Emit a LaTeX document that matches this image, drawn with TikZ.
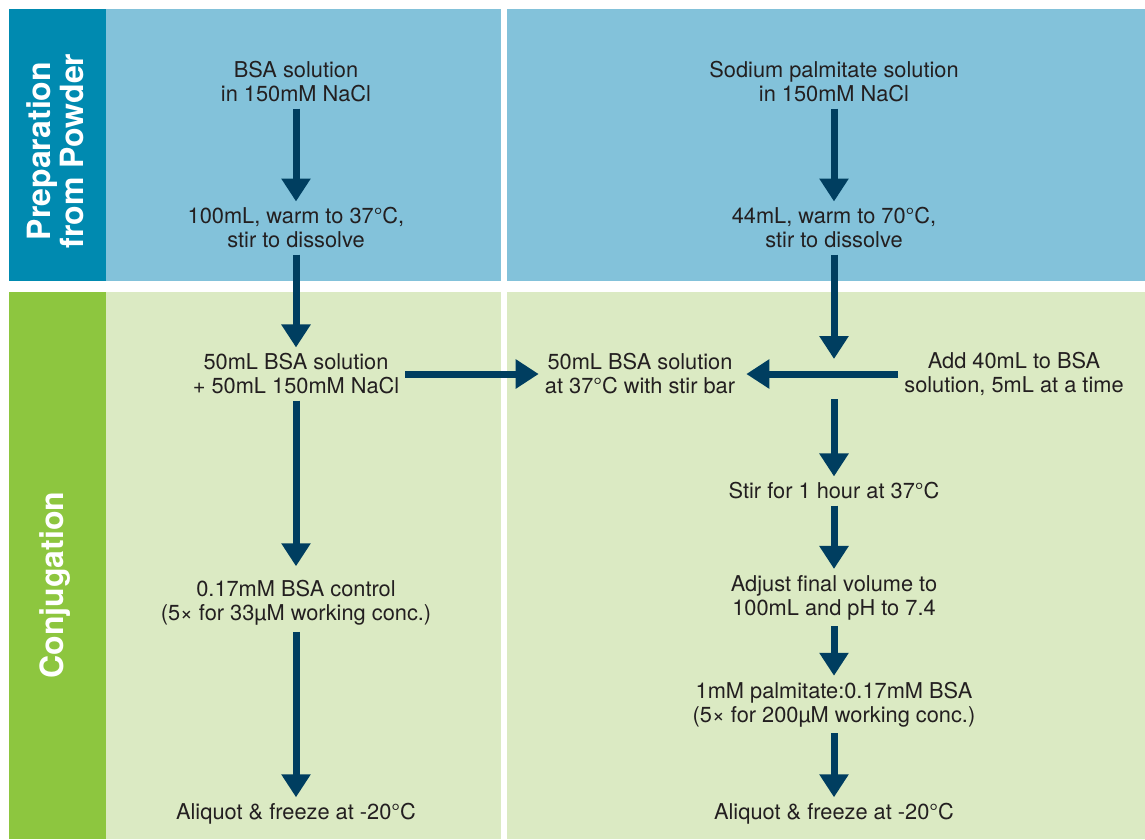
\documentclass[tikz,border=0pt]{standalone}
\usepackage{fontspec}
\setmainfont{TeX Gyre Heros}
\usepackage{tikz}
\usetikzlibrary{arrows.meta}

\definecolor{azulescuro}{RGB}{0,138,176}
\definecolor{azulclaro}{RGB}{131,194,218}
\definecolor{verde}{RGB}{141,198,63}
\definecolor{verdeclaro}{RGB}{219,234,195}
\definecolor{seta}{RGB}{0,62,96}
\definecolor{texto}{RGB}{35,31,32}

\begin{document}
\begin{tikzpicture}[x=1pt, y=-1pt,
    passo/.style={align=center, text=texto, inner sep=6pt, font=\fontsize{21.8}{24}\selectfont},
    rotulo/.style={rotate=90, align=center, text=white, font=\fontsize{32}{33}\selectfont\bfseries},
    fluxo/.style={draw=seta, line width=7pt, -{Triangle[width=28pt,length=23pt]}}]
            \useasboundingbox (0,0) rectangle (1145,839);

            % faixas de fundo
            \fill[azulescuro] (9,9) rectangle (106,281);
            \fill[azulclaro] (106,9) rectangle (500.7,281);
            \fill[azulclaro] (507,9) rectangle (1145,281);
            \fill[verde] (9,292) rectangle (106,839);
            \fill[verdeclaro] (106,292) rectangle (500.7,839);
            \fill[verdeclaro] (507,292) rectangle (1145,839);

            % rótulos laterais
            \node[rotulo] (prep) at (55.5,151) {Preparation\\from Powder};
            \node[rotulo] (conj) at (55,585) {Conjugation};

            % coluna da BSA
            \node[passo] (bsa) at (296,82) {BSA solution\\in 150mM NaCl};
            \node[passo] (aqA) at (296,228) {100mL, warm to 37°C,\\stir to dissolve};
            \node[passo] (mixA) at (296,374) {50mL BSA solution\\+ 50mL 150mM NaCl};
            \node[passo] (ctrl) at (296,603) {0.17mM BSA control\\(5× for 33µM working conc.)};
            \node[passo] (frzA) at (296,814) {Aliquot \& freeze at -20°C};

            % coluna do palmitato
            \node[passo] (palm) at (834,82) {Sodium palmitate solution\\in 150mM NaCl};
            \node[passo] (aqB) at (834,228) {44mL, warm to 70°C,\\stir to dissolve};
            \node[passo] (addB) at (1014,374) {Add 40mL to BSA\\solution, 5mL at a time};
            \node[passo] (bsaB) at (640,374) {50mL BSA solution\\at 37°C with stir bar};
            \coordinate (jn) at (834,374);
            \node[passo] (stir) at (834,491) {Stir for 1 hour at 37°C};
            \node[passo] (adj) at (834,597.5) {Adjust final volume to\\100mL and pH to 7.4};
            \node[passo] (conc) at (834,704.5) {1mM palmitate:0.17mM BSA\\(5× for 200µM working conc.)};
            \node[passo] (frzB) at (834,814) {Aliquot \& freeze at -20°C};

            % setas
            \draw[fluxo] (bsa) -- (aqA);
            \draw[fluxo] (aqA) -- (mixA);
            \draw[fluxo, shorten >=8pt] (mixA) -- (ctrl);
            \draw[fluxo] (ctrl) -- (frzA);
            \draw[fluxo] (mixA) -- (bsaB);

            \draw[fluxo] (palm) -- (aqB);
            \draw[fluxo, shorten >=15pt] (aqB) -- (jn);
            \draw[fluxo, shorten >=5pt] (addB) -- (bsaB);
            \draw[fluxo, shorten <=25pt] (jn) -- (stir);
            \draw[fluxo] (stir) -- (adj);
            \draw[fluxo] (adj) -- (conc);
            \draw[fluxo] (conc) -- (frzB);
        \end{tikzpicture}
\end{document}
